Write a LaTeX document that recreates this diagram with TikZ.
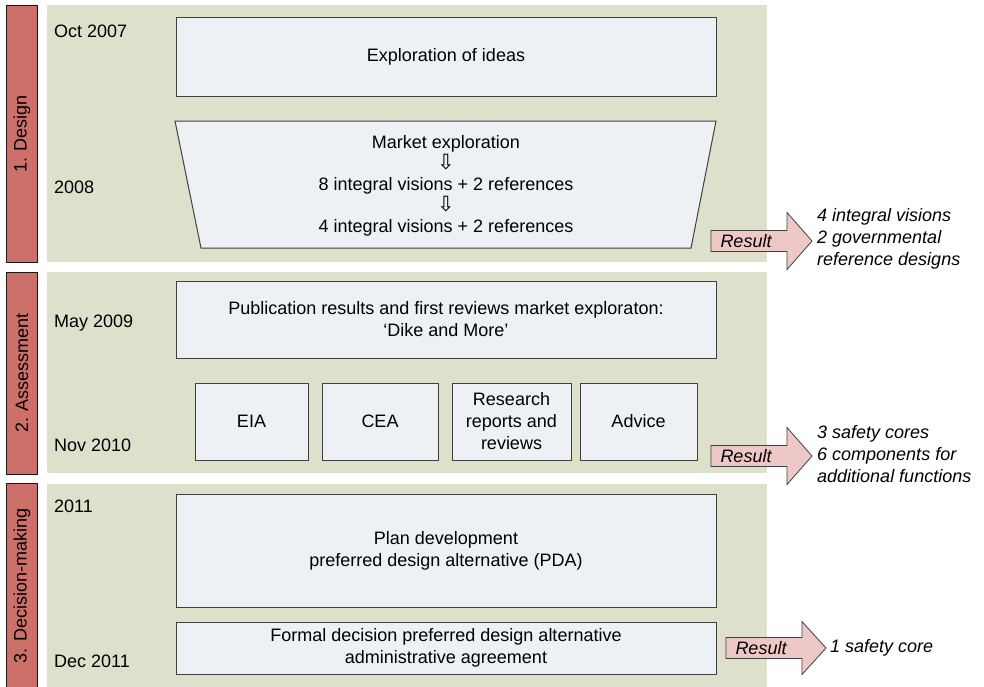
\documentclass[tikz,border=0pt]{standalone}
\usepackage{fontspec}
\setmainfont{Liberation Sans}
\newfontfamily\symfont{DejaVu Sans}
\definecolor{tabred}{HTML}{CD7069}
\definecolor{panelgreen}{HTML}{DDE0CB}
\definecolor{boxfill}{HTML}{EDF0F5}
\definecolor{boxline}{HTML}{404040}
\definecolor{resfill}{HTML}{EEC8C6}
\tikzset{
  tabbox/.style={draw=black!90, fill=tabred, line width=0.9pt},
  panel/.style={fill=panelgreen, draw=none},
  stagebox/.style={draw=boxline, fill=boxfill, line width=1pt, align=center, inner sep=0pt},
  datelbl/.style={anchor=base west, inner sep=0pt},
  tablbl/.style={rotate=90, inner sep=0pt},
  resarrow/.style={draw=boxline, fill=resfill, line width=0.8pt},
  reslbl/.style={font=\fontsize{18}{22}\selectfont\itshape, inner sep=0pt},
  restext/.style={font=\fontsize{18}{22}\selectfont\itshape, align=left, anchor=west, inner sep=0pt},
}
\newcommand{\dnarrow}{{\fontsize{21}{22}\selectfont\symfont ⇩}}
\begin{document}
\fontsize{18}{22}\selectfont
\begin{tikzpicture}[x=1pt,y=-1pt]
\useasboundingbox (0,0) rectangle (984,686);
% panels
\fill[panel] (47,5) rectangle (767,262);
\fill[panel] (47,272) rectangle (767,473);
\fill[panel] (47,484) rectangle (767,690);
% tabs
\draw[tabbox] (6,5) rectangle (37,262);
\draw[tabbox] (6,272) rectangle (37,474);
\draw[tabbox] (6,483) rectangle (37,692);
\node[tablbl] (tab1) at (22,134) {1. Design};
\node[tablbl] (tab2) at (22,373) {2. Assessment};
\node[tablbl] (tab3) at (22,586) {3. Decision-making};
% dates
\node[datelbl] (d1) at (54,37) {Oct 2007};
\node[datelbl] (d2) at (54,193) {2008};
\node[datelbl] (d3) at (54,327) {May 2009};
\node[datelbl] (d4) at (54,451) {Nov 2010};
\node[datelbl] (d5) at (54,512) {2011};
\node[datelbl] (d6) at (54,667) {Dec 2011};
% design phase
\node[stagebox, minimum width=540, minimum height=79] (explore) at (446,56.5) {Exploration of ideas};
\draw[draw=boxline, fill=boxfill, line width=1pt] (175,121) -- (716,121) -- (691,248) -- (201,248) -- cycle;
\node[align=center, inner sep=0pt] (market) at (446,186) {Market exploration\\[-1pt]
  \dnarrow\\[-1pt]
  8 integral visions + 2 references\\[-1pt]
  \dnarrow\\[-1pt]
  4 integral visions + 2 references};
% assessment phase
\node[stagebox, minimum width=540, minimum height=77] (publ) at (446,319.5) {Publication results and first reviews market exploraton:\\‘Dike and More’};
\node[stagebox, minimum width=113, minimum height=77] (eia) at (251.5,421.5) {EIA};
\node[stagebox, minimum width=116, minimum height=77] (cea) at (380,421.5) {CEA};
\node[stagebox, minimum width=119, minimum height=77] (research) at (511.5,421.5) {Research\\reports and\\reviews};
\node[stagebox, minimum width=117, minimum height=77] (advice) at (638.5,421.5) {Advice};
% decision phase
\node[stagebox, minimum width=540, minimum height=113] (plan) at (446,550.5) {Plan development\\preferred design alternative (PDA)};
\node[stagebox, minimum width=540, minimum height=52] (formal) at (446,648) {Formal decision preferred design alternative\\administrative agreement};
% result arrows
\draw[resarrow] (711,241) ++(0,-10.5) -- ++(76,0) -- ++(0,-18) -- ++(25,28.5) -- ++(-25,28.5) -- ++(0,-18) -- ++(-76,0) -- cycle;
\node[reslbl] (r1) at (746,241) {Result};
\node[restext] (out1) at (817,239) {4 integral visions\\2 governmental\\reference designs};
\draw[resarrow] (711,456) ++(0,-10.5) -- ++(76,0) -- ++(0,-18) -- ++(25,28.5) -- ++(-25,28.5) -- ++(0,-18) -- ++(-76,0) -- cycle;
\node[reslbl] (r2) at (746,456) {Result};
\node[restext] (out2) at (817,454) {3 safety cores\\6 components for\\additional functions};
\draw[resarrow] (726,648) ++(0,-10.5) -- ++(76,0) -- ++(0,-16) -- ++(24,26.5) -- ++(-24,26.5) -- ++(0,-16) -- ++(-76,0) -- cycle;
\node[reslbl] (r3) at (761,648) {Result};
\node[restext] (out3) at (830,648) {1 safety core};
\end{tikzpicture}
\end{document}
